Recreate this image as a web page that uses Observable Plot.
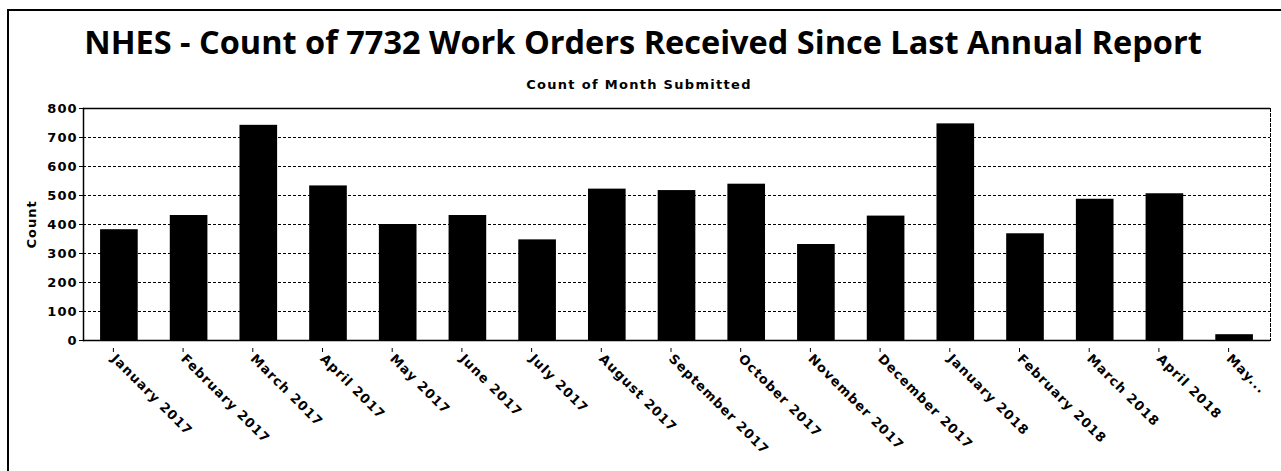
<!DOCTYPE html>
<html>
<head>
<meta charset="utf-8">
<script src="https://cdn.jsdelivr.net/npm/d3@7"></script>
<script src="https://cdn.jsdelivr.net/npm/@observablehq/plot@0.6"></script>
<style>
  html, body { margin: 0; padding: 0; background: #fff; width: 1281px; height: 471px; overflow: hidden; }
  #frame { position: absolute; left: 7px; top: 9px; width: 1280px; height: 470px; border-left: 2px solid #000; border-top: 2px solid #000; }
  #title { position: absolute; left: 0; width: 1286px; top: 22px; text-align: center; font-family: "Open Sans", sans-serif; font-weight: 700; font-size: 32.5px; line-height: 40px; color: #000; white-space: nowrap; }
  #subtitle { position: absolute; left: 0; width: 1278px; top: 76px; text-align: center; font-family: "DejaVu Sans", sans-serif; font-weight: 700; font-size: 13px; letter-spacing: 1.3px; line-height: 18px; color: #000; }
  #chart { position: absolute; left: 0; top: 100px; }
  #chart svg text { letter-spacing: 1px; }
</style>
</head>
<body>
<div id="frame"></div>
<div id="title">NHES - Count of 7732 Work Orders Received Since Last Annual Report</div>
<div id="subtitle">Count of Month Submitted</div>
<div id="chart"></div>
<script>
const months = ["January 2017","February 2017","March 2017","April 2017","May 2017","June 2017","July 2017","August 2017","September 2017","October 2017","November 2017","December 2017","January 2018","February 2018","March 2018","April 2018","May..."];
const counts = [382,431,742,533,400,431,347,522,517,539,331,429,747,368,487,506,20];
const yTicks = [0,100,200,300,400,500,600,700,800];

const data = months.map((m, i) => ({month: m, count: counts[i]}));

const chart = Plot.plot({
  width: 1281,
  height: 371,
  marginLeft: 83,
  marginRight: 11,
  marginTop: 8,
  marginBottom: 131,
  style: {fontFamily: "DejaVu Sans, sans-serif", fontWeight: "bold", fontSize: "13px", color: "#000", background: "transparent", overflow: "visible"},
  x: {domain: months, paddingInner: 0.46, paddingOuter: 0.245, align: 0.5, round: false},
  y: {domain: [0, 800]},
  marks: [
    Plot.ruleY(yTicks.filter(d => d > 0 && d < 800), {stroke: "#000", strokeWidth: 1, strokeDasharray: "3,2"}),
    Plot.barY(data, {x: "month", y: "count", fill: "#000"}),
    Plot.ruleY([800], {stroke: "#000", strokeWidth: 1.5}),
    Plot.ruleY([0], {stroke: "#000", strokeWidth: 1.5}),
    Plot.frame({anchor: "left", stroke: "#000", strokeWidth: 1.5}),
    Plot.frame({anchor: "right", stroke: "#000", strokeWidth: 1, strokeDasharray: "3,2"}),
    Plot.axisY({ticks: yTicks, tickSize: 4, tickPadding: 2, label: "Count", labelAnchor: "center", labelArrow: "none", labelOffset: 57, fontSize: 13}),
    Plot.axisX({tickRotate: 45, tickSize: 4, tickPadding: 4, label: null, fontSize: 13, dx: -6, dy: 8})
  ]
});
document.getElementById("chart").appendChild(chart);
</script>
</body>
</html>
